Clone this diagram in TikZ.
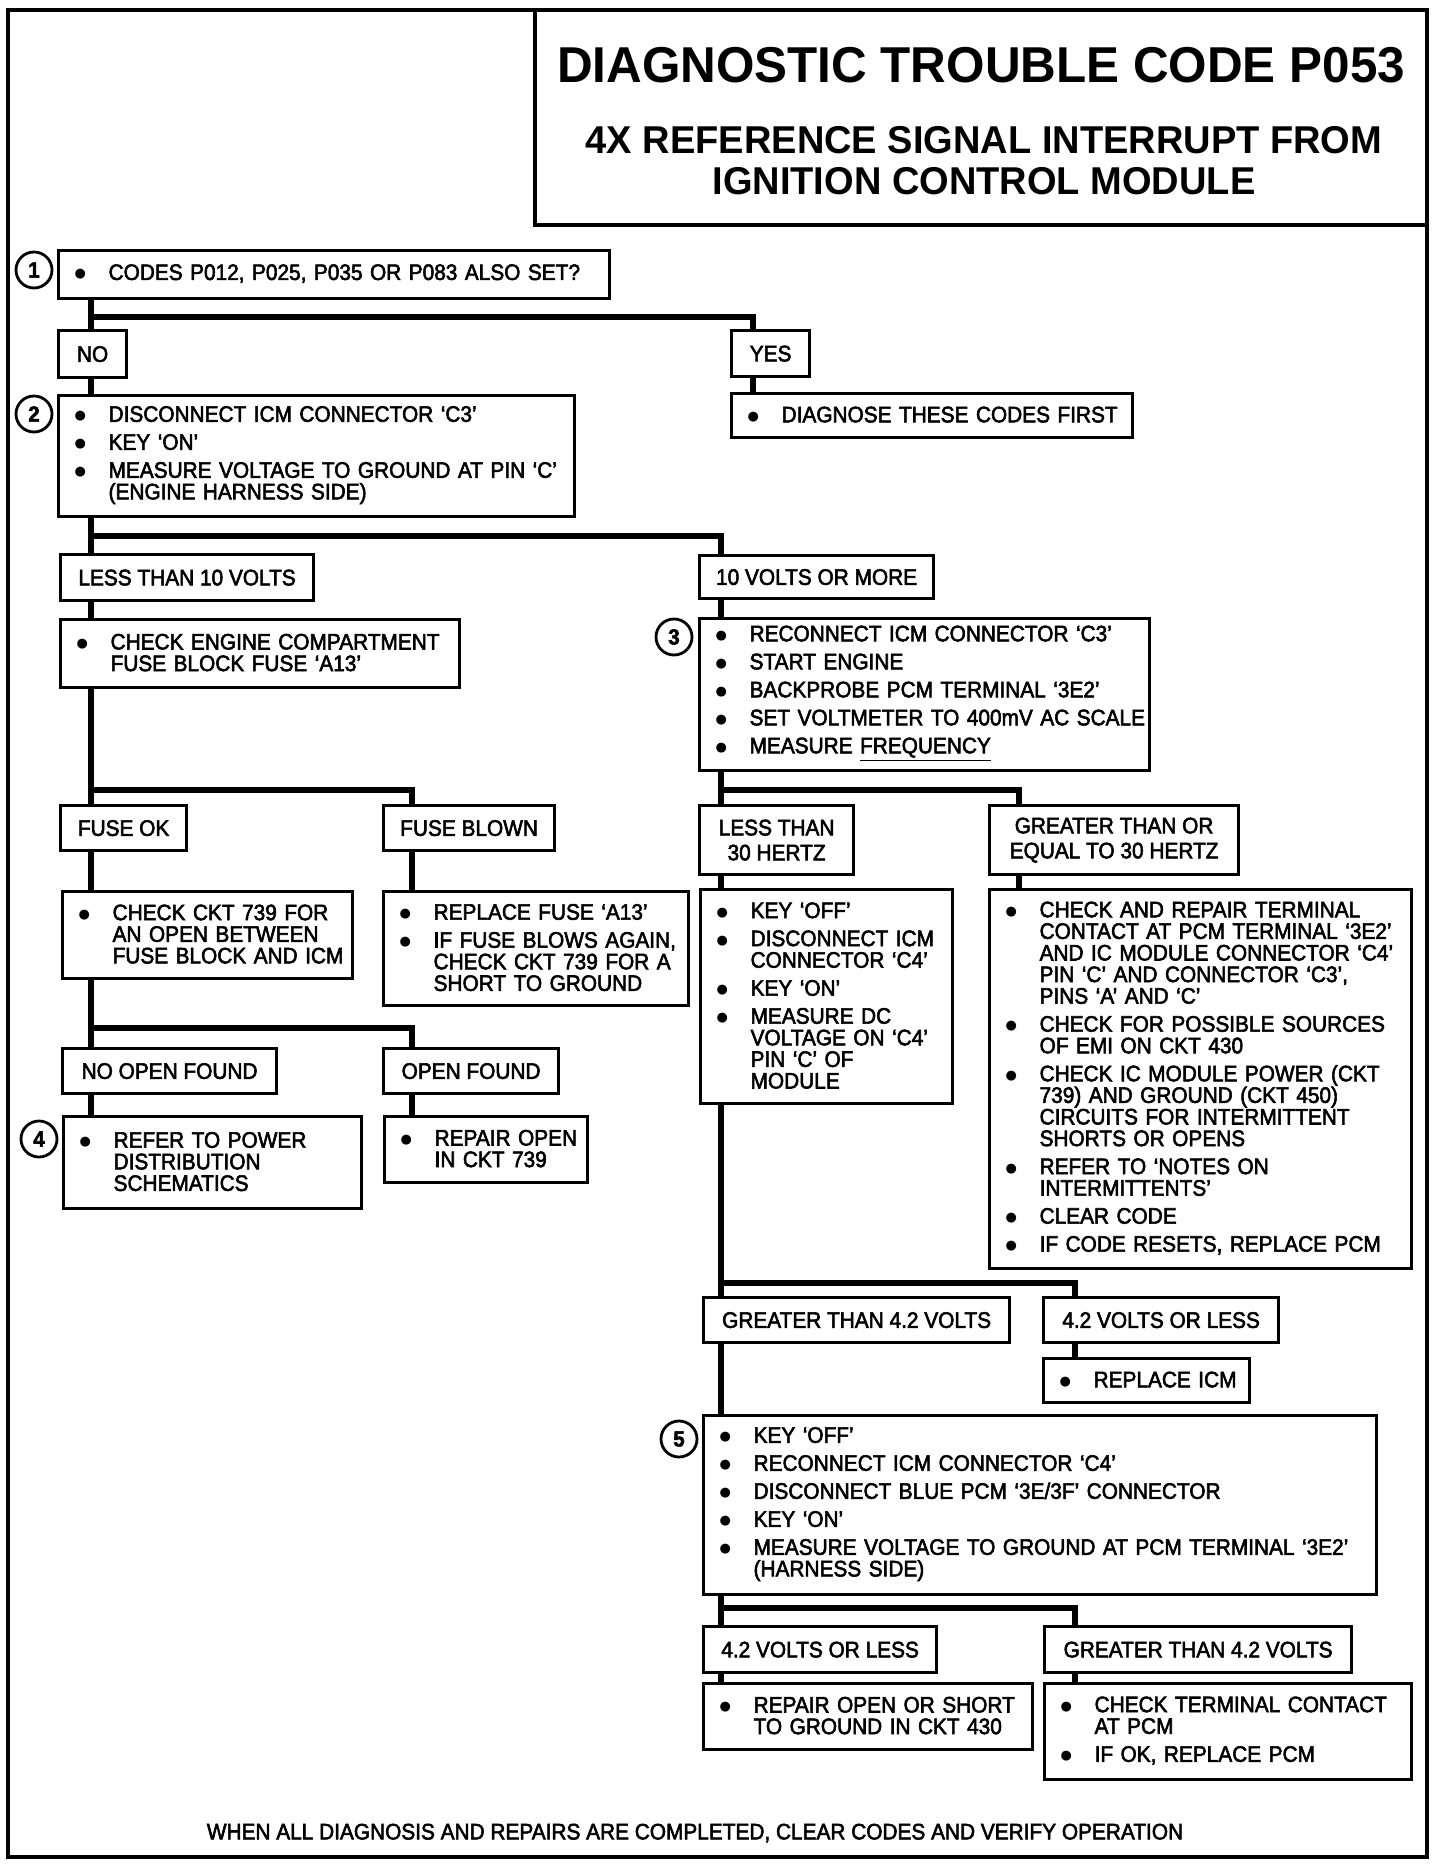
\documentclass[tikz,border=0pt]{standalone}
\usepackage{fontspec}
\newfontfamily\bodyfont{Liberation Sans}[Ligatures=TeX,FakeStretch=0.93,FakeBold=2.5]
\newfontfamily\titlefont{Liberation Sans}[Ligatures=TeX,FakeStretch=0.98]
\newfontfamily\dotfont{DejaVu Sans}
\newlength\bw
\setlength\bw{17pt}
\newcommand\itm[1]{\par\noindent\hangindent=\bw\hangafter=1\rightskip=-40pt plus 1fil\makebox[\bw][l]{\raisebox{1pt}{\dotfont\fontsize{6.5}{6.5}\selectfont ●}}{\let\\\newline #1}\par}

\begin{document}
\begin{tikzpicture}[x=0.5pt, y=-0.5pt,
    stepbox/.style={draw, line width=1.6pt, anchor=north west, align=left, inner xsep=8pt, inner ysep=3pt,
      font=\bodyfont\fontsize{11.2}{10.8}\selectfont, execute at begin node={\setlength{\parskip}{3.2pt}\vspace*{-7.2pt}}},
    answer/.style={draw, line width=1.6pt, anchor=north west, align=center, inner sep=2pt,
      font=\bodyfont\fontsize{11.2}{12.5}\selectfont},
    num/.style={draw, circle, line width=1.4pt, minimum size=18pt, inner sep=0pt,
      font=\bodyfont\bfseries\fontsize{11}{11}\selectfont},
    link/.style={line width=3pt}]
    \useasboundingbox (0,0) rectangle (1440,1866);

    \draw[line width=2pt] (8,10) rectangle (1427,1857);
    \draw[line width=1.6pt] (535,10) rectangle (1427,225);
    \node[font=\titlefont\bfseries\fontsize{25.2}{28}\selectfont] (title) at (981,65) {DIAGNOSTIC TROUBLE CODE P053};
    \node[font=\titlefont\bfseries\fontsize{19.4}{20.5}\selectfont, align=center] (subtitle) at (984,161) {4X REFERENCE SIGNAL INTERRUPT FROM\\IGNITION CONTROL MODULE};

    %colonnes des liaisons
    \coordinate (left) at (91,0);
    \coordinate (branchL) at (412,0);
    \coordinate (right) at (721,0);
    \coordinate (yescol) at (753,0);
    \coordinate (branchR) at (1019,0);
    \coordinate (branchRR) at (1075,0);

    %step 1
    \node[stepbox, text width=259.5pt, minimum height=24pt] (codes) at (57,249) {\itm{CODES P012, P025, P035 OR P083 ALSO SET?}};
    \node[num] (one) at (34,270) {1};
    \node[answer, minimum width=34pt, minimum height=23.5pt] (no) at (57,329) {NO};
    \node[answer, minimum width=39pt, minimum height=23pt] (yes) at (730,329) {YES};
    \node[stepbox, text width=184.5pt, minimum height=22pt] (diagnose) at (730,392) {\itm{DIAGNOSE THESE CODES FIRST}};

    %step 2
    \node[stepbox, text width=242pt, minimum height=60.5pt] (disconnect) at (57,394) {\itm{DISCONNECT ICM CONNECTOR `C3'}\itm{KEY `ON'}\itm{MEASURE VOLTAGE TO GROUND AT PIN `C'\\(ENGINE HARNESS SIDE)}};
    \node[num] (two) at (34,414) {2};
    \node[answer, minimum width=126.5pt, minimum height=23pt] (lowvolts) at (59,553) {LESS THAN 10 VOLTS};
    \node[answer, minimum width=117pt, minimum height=21.5pt] (highvolts) at (698,554) {10 VOLTS OR MORE};
    \node[stepbox, text width=183.5pt, minimum height=34pt] (fusecheck) at (59,618) {\itm{CHECK ENGINE COMPARTMENT\\FUSE BLOCK FUSE `A13'}};
    \node[answer, minimum width=63pt, minimum height=22.5pt] (fuseok) at (59,804) {FUSE OK};
    \node[answer, minimum width=85.5pt, minimum height=22.5pt] (fuseblown) at (382,804) {FUSE BLOWN};
    \node[stepbox, text width=129pt, minimum height=43.5pt] (cktcheck) at (61,890) {\itm{CHECK CKT 739 FOR\\AN OPEN BETWEEN\\FUSE BLOCK AND ICM}};
    \node[stepbox, text width=136.5pt, minimum height=57pt] (newfuse) at (382,890) {\itm{REPLACE FUSE `A13'}\itm{IF FUSE BLOWS AGAIN,\\CHECK CKT 739 FOR A\\SHORT TO GROUND}};
    \node[answer, minimum width=107pt, minimum height=22.5pt] (noopen) at (61,1047) {NO OPEN FOUND};
    \node[answer, minimum width=87.5pt, minimum height=22.5pt] (open) at (382,1047) {OPEN FOUND};
    \node[stepbox, text width=133pt, minimum height=46pt] (power) at (62,1115) {\itm{REFER TO POWER\\DISTRIBUTION\\SCHEMATICS}};
    \node[num] (four) at (39,1139) {4};
    \node[stepbox, text width=85.5pt, minimum height=33pt] (openrepair) at (383,1115) {\itm{REPAIR OPEN\\IN CKT 739}};

    %step 3
    \node[stepbox, text width=209pt, minimum height=76pt] (reconnect) at (698,617) {\itm{RECONNECT ICM CONNECTOR `C3'}\itm{START ENGINE}\itm{BACKPROBE PCM TERMINAL `3E2'}\itm{SET VOLTMETER TO 400mV AC SCALE}\itm{MEASURE \underline{FREQUENCY}}};
    \node[num] (three) at (674,637) {3};
    \node[answer, minimum width=77pt, minimum height=34.5pt] (lowfreq) at (698,804) {LESS THAN\\30 HERTZ};
    \node[answer, minimum width=124.5pt, minimum height=34.5pt] (highfreq) at (988,804) {GREATER THAN OR\\EQUAL TO 30 HERTZ};
    \node[stepbox, text width=110pt, minimum height=107pt] (keyoff) at (699,888) {\itm{KEY `OFF'}\itm{DISCONNECT ICM\\CONNECTOR `C4'}\itm{KEY `ON'}\itm{MEASURE DC\\VOLTAGE ON `C4'\\PIN `C' OF\\MODULE}};
    \node[stepbox, text width=195pt, minimum height=189.5pt] (contact) at (988,888) {\itm{CHECK AND REPAIR TERMINAL\\CONTACT AT PCM TERMINAL `3E2'\\AND IC MODULE CONNECTOR `C4'\\PIN `C' AND CONNECTOR `C3',\\PINS `A' AND `C'}\itm{CHECK FOR POSSIBLE SOURCES\\OF EMI ON CKT 430}\itm{CHECK IC MODULE POWER (CKT\\739) AND GROUND (CKT 450)\\CIRCUITS FOR INTERMITTENT\\SHORTS OR OPENS}\itm{REFER TO `NOTES ON\\INTERMITTENTS'}\itm{CLEAR CODE}\itm{IF CODE RESETS, REPLACE PCM}};
    \node[answer, minimum width=153pt, minimum height=22.5pt] (dchigh) at (702,1296) {GREATER THAN 4.2 VOLTS};
    \node[answer, minimum width=117.5pt, minimum height=22.5pt] (dclow) at (1042,1296) {4.2 VOLTS OR LESS};
    \node[stepbox, text width=87pt, minimum height=22pt] (icm) at (1042,1357) {\itm{REPLACE ICM}};

    %step 5
    \node[stepbox, text width=320.5pt, minimum height=89.5pt] (harness) at (702,1414) {\itm{KEY `OFF'}\itm{RECONNECT ICM CONNECTOR `C4'}\itm{DISCONNECT BLUE PCM `3E/3F' CONNECTOR}\itm{KEY `ON'}\itm{MEASURE VOLTAGE TO GROUND AT PCM TERMINAL `3E2'\\(HARNESS SIDE)}};
    \node[num] (five) at (679,1439) {5};
    \node[answer, minimum width=116.5pt, minimum height=23pt] (pcmlow) at (702,1625) {4.2 VOLTS OR LESS};
    \node[answer, minimum width=153.5pt, minimum height=23pt] (pcmhigh) at (1043,1625) {GREATER THAN 4.2 VOLTS};
    \node[stepbox, text width=148.5pt, minimum height=33pt] (short) at (702,1682) {\itm{REPAIR OPEN OR SHORT\\TO GROUND IN CKT 430}};
    \node[stepbox, text width=167.5pt, minimum height=48pt] (pcm) at (1043,1682) {\itm{CHECK TERMINAL CONTACT\\AT PCM}\itm{IF OK, REPLACE PCM}};

    \node[font=\bodyfont\fontsize{11.2}{12}\selectfont] (verify) at (695,1833) {WHEN ALL DIAGNOSIS AND REPAIRS ARE COMPLETED, CLEAR CODES AND VERIFY OPERATION};

    %liaisons verticales
    \foreach \a/\b/\c in {codes/no/left, no/disconnect/left, disconnect/lowvolts/left, lowvolts/fusecheck/left,
        fusecheck/fuseok/left, fuseok/cktcheck/left, cktcheck/noopen/left, noopen/power/left,
        yes/diagnose/yescol, fuseblown/newfuse/branchL, open/openrepair/branchL,
        highvolts/reconnect/right, reconnect/lowfreq/right, lowfreq/keyoff/right, keyoff/dchigh/right,
        dchigh/harness/right, harness/pcmlow/right, pcmlow/short/right,
        highfreq/contact/branchR, dclow/icm/branchRR, pcmhigh/pcm/branchRR}{
      \draw[link] (\a.south -| \c) -- (\b.north -| \c);
    }

    %embranchements
    \foreach \y/\x/\b/\c in {317/91/yes/yescol, 536/91/highvolts/right, 790/91/fuseblown/branchL,
        1028/91/open/branchL, 790/721/highfreq/branchR, 1283/721/dclow/branchRR, 1608/721/pcmhigh/branchRR}{
      \draw[link] (\x,\y) -| (\b.north -| \c);
    }
  \end{tikzpicture}
\end{document}
